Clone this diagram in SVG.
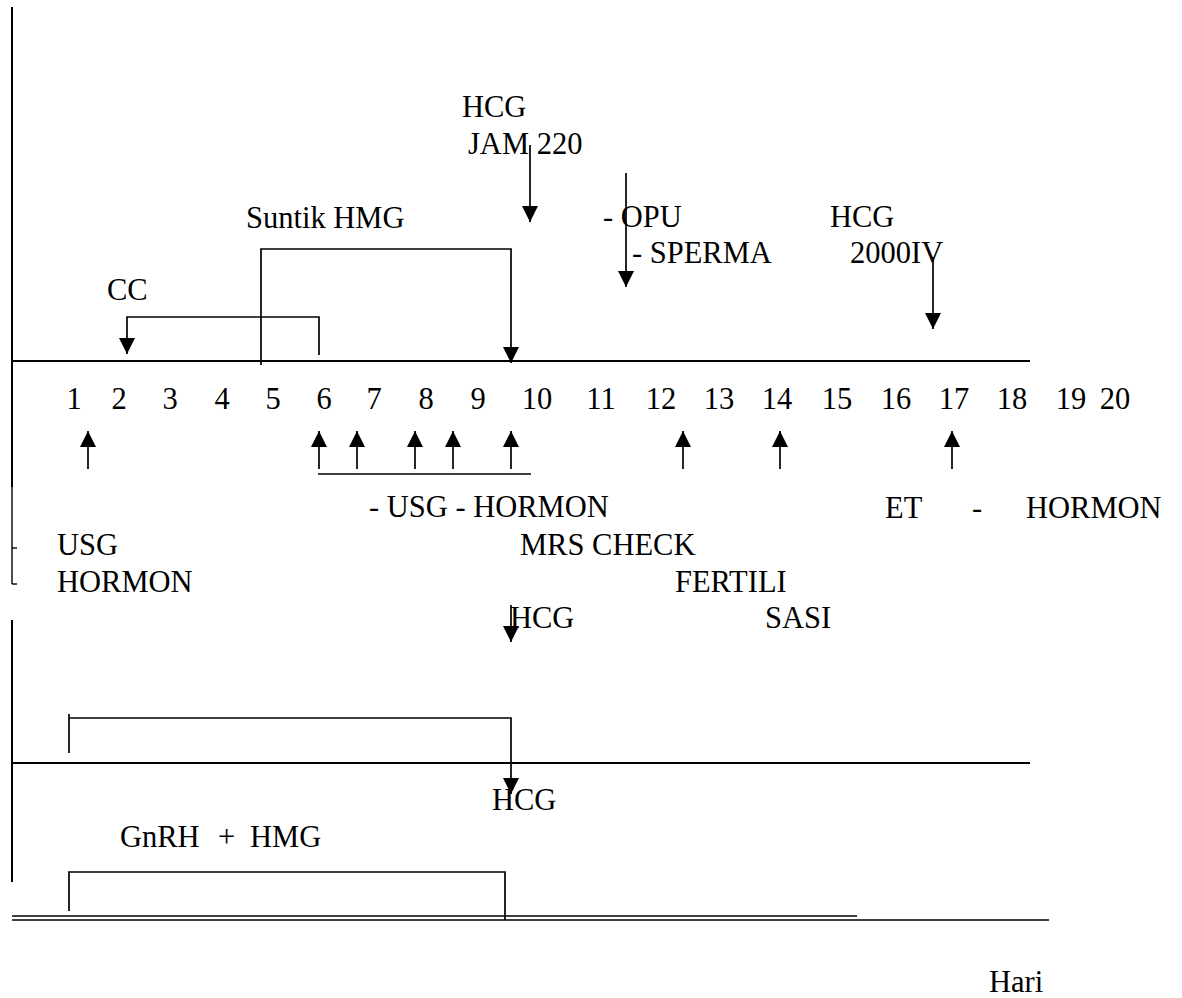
<svg xmlns="http://www.w3.org/2000/svg" width="1182" height="998" viewBox="0 0 1182 998">
<style>
text{font-family:"Liberation Serif","Times New Roman",serif;font-size:30.5px;fill:#000}
.n{text-anchor:middle}
.ax{stroke:#000;stroke-width:2;fill:none}
.ln{stroke:#000;stroke-width:1.7;fill:none}
.thin{stroke:#000;stroke-width:1.4;fill:none}
</style>
<defs>
<marker id="ah" markerUnits="userSpaceOnUse" markerWidth="17" markerHeight="17" viewBox="0 0 17 17" refX="16" refY="8.5" orient="auto">
<path d="M0,0.5 L16,8.5 L0,16.5 z" fill="#000"/>
</marker>
</defs>
<g id="frame">
<line class="ax" x1="12" y1="7" x2="12" y2="487"/>
<line class="thin" x1="12" y1="487" x2="12" y2="584"/>
<line class="thin" x1="12" y1="548" x2="17" y2="548"/>
<line class="thin" x1="12" y1="584" x2="17" y2="584"/>
<line class="ax" x1="12" y1="620" x2="12" y2="882"/>
<line class="ax" x1="12" y1="361" x2="1030" y2="361"/>
<line class="ax" x1="12" y1="763" x2="1030" y2="763"/>
<line class="thin" x1="12" y1="916" x2="857" y2="916"/>
<line class="thin" x1="12" y1="920" x2="1049" y2="920"/>
</g>
<g id="connectors">
<path class="ln" d="M319,355 V317 H127 V354" marker-end="url(#ah)"/>
<path class="ln" d="M261,365 V249 H511 V363" marker-end="url(#ah)"/>
<line class="ln" x1="530" y1="145" x2="530" y2="222" marker-end="url(#ah)"/>
<line class="ln" x1="626" y1="173" x2="626" y2="287" marker-end="url(#ah)"/>
<line class="ln" x1="933" y1="257" x2="933" y2="329" marker-end="url(#ah)"/>
<line class="ln" x1="88" y1="469" x2="88" y2="431" marker-end="url(#ah)"/>
<line class="ln" x1="319" y1="469" x2="319" y2="431" marker-end="url(#ah)"/>
<line class="ln" x1="357" y1="469" x2="357" y2="431" marker-end="url(#ah)"/>
<line class="ln" x1="415" y1="469" x2="415" y2="431" marker-end="url(#ah)"/>
<line class="ln" x1="453" y1="469" x2="453" y2="431" marker-end="url(#ah)"/>
<line class="ln" x1="511" y1="469" x2="511" y2="431" marker-end="url(#ah)"/>
<line class="ln" x1="683" y1="469" x2="683" y2="431" marker-end="url(#ah)"/>
<line class="ln" x1="780" y1="469" x2="780" y2="431" marker-end="url(#ah)"/>
<line class="ln" x1="952" y1="469" x2="952" y2="431" marker-end="url(#ah)"/>
<line class="ln" x1="318" y1="474" x2="531" y2="474"/>
<line class="ln" x1="511" y1="605" x2="511" y2="642" marker-end="url(#ah)"/>
<path class="ln" d="M69,753 V714"/>
<path class="ln" d="M69,718 H511 V794" marker-end="url(#ah)"/>
<path class="ln" d="M69,911 V872 H505 V920"/>
</g>
<g id="days">
<text class="n" x="74" y="409">1</text>
<text class="n" x="119" y="409">2</text>
<text class="n" x="170" y="409">3</text>
<text class="n" x="222" y="409">4</text>
<text class="n" x="273" y="409">5</text>
<text class="n" x="324" y="409">6</text>
<text class="n" x="374" y="409">7</text>
<text class="n" x="426" y="409">8</text>
<text class="n" x="478" y="409">9</text>
<text class="n" x="537" y="409">10</text>
<text class="n" x="601" y="409">11</text>
<text class="n" x="661" y="409">12</text>
<text class="n" x="719" y="409">13</text>
<text class="n" x="777" y="409">14</text>
<text class="n" x="837" y="409">15</text>
<text class="n" x="896" y="409">16</text>
<text class="n" x="954" y="409">17</text>
<text class="n" x="1012" y="409">18</text>
<text class="n" x="1071" y="409">19</text>
<text class="n" x="1115" y="409">20</text>
</g>
<g id="hcg-jam"><text x="462" y="117">HCG</text><text x="468" y="154">JAM 220</text></g>
<g id="suntik"><text x="246" y="228">Suntik HMG</text></g>
<g id="opu"><text x="603" y="227">- OPU</text><text x="632" y="263">- SPERMA</text></g>
<g id="hcg-iv"><text x="830" y="227">HCG</text><text x="850" y="263">2000IV</text></g>
<g id="cc"><text x="107" y="300">CC</text></g>
<g id="usg-hormon"><text x="369" y="517">- USG - HORMON</text></g>
<g id="et"><text x="885" y="518">ET</text><text x="972" y="518">-</text><text x="1026" y="518">HORMON</text></g>
<g id="usg-left"><text x="57" y="555">USG</text><text x="57" y="592">HORMON</text></g>
<g id="mrs"><text x="520" y="555">MRS CHECK</text></g>
<g id="fertili"><text x="675" y="592">FERTILI</text><text x="765" y="628">SASI</text></g>
<g id="hcg-mid"><text x="510" y="628">HCG</text></g>
<g id="hcg-low"><text x="492" y="810">HCG</text></g>
<g id="gnrh"><text y="847"><tspan x="120">GnRH</tspan><tspan x="218">+</tspan><tspan x="250">HMG</tspan></text></g>
<g id="hari"><text x="989" y="992">Hari</text></g>
</svg>
